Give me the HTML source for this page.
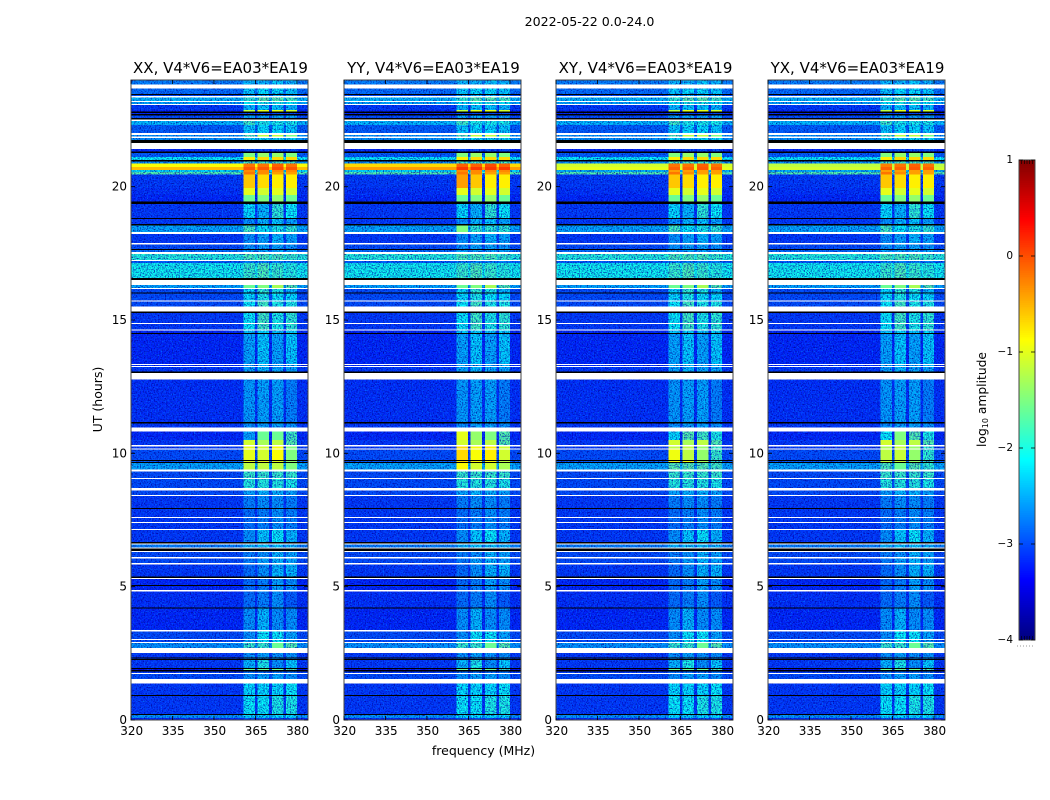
<!DOCTYPE html>
<html lang="en">
<head>
<meta charset="utf-8">
<title>2022-05-22 0.0-24.0</title>
<style>
html,body{margin:0;padding:0;background:#fff;}
svg{display:block;font-family:"DejaVu Sans","Liberation Sans",sans-serif;fill:#000;}
</style>
</head>
<body>
<svg id="fig" xmlns="http://www.w3.org/2000/svg" width="1050" height="800" viewBox="0 0 1050 800">
<defs>
<filter id="speckle-dark" x="0" y="0" width="100%" height="100%" color-interpolation-filters="sRGB">
<feTurbulence type="fractalNoise" baseFrequency="0.72" numOctaves="2" seed="3"/>
<feColorMatrix type="matrix" values="0 0 0 0 0  0 0 0 0 0  0 0 0 0 0.6  2.6 0 0 0 -1.15"/>
</filter>
<filter id="speckle-light" x="0" y="0" width="100%" height="100%" color-interpolation-filters="sRGB">
<feTurbulence type="fractalNoise" baseFrequency="0.72" numOctaves="2" seed="11"/>
<feColorMatrix type="matrix" values="0 0 0 0 0  0 0 0 0 0.5  0 0 0 0 1  0 2.4 0 0 -1.25"/>
</filter>
</defs>
<text x="589.5" y="26" font-size="12.6" text-anchor="middle">2022-05-22 0.0-24.0</text>
<text transform="translate(102,399.5) rotate(-90)" font-size="12.5" text-anchor="middle">UT (hours)</text>
<text x="483.5" y="755" font-size="12.5" text-anchor="middle">frequency (MHz)</text>
<g id="panels"></g>
<g id="colorbar"></g>
<text transform="translate(986,399.5) rotate(-90)" font-size="12.3" text-anchor="middle">log<tspan font-size="8" dy="2">10</tspan><tspan dy="-2"> amplitude</tspan></text>
</svg>
<script>
// White rows are flagged data, black rows are masked integrations.
const W = null;
const K = -9;

const panelTitles = ["XX, V4*V6=EA03*EA19", "YY, V4*V6=EA03*EA19", "XY, V4*V6=EA03*EA19", "YX, V4*V6=EA03*EA19"];
const freqTicks = [320, 335, 350, 365, 380];
const utTicks = [0, 5, 10, 15, 20];
const colorbarTicks = [1, 0, -1, -2, -3, -4];

// Frequency segment edges in MHz; segmentColumn selects which value of a row each segment reads.
const freqEdges = [320, 360.6, 364.9, 365.8, 369.9, 370.9, 375.1, 376, 380, 384];
const segmentColumn = [0, 1, 0, 2, 0, 3, 0, 4, 0];

// UT at the top of each row, then the last bottom edge (0).
const utEdges = [
24.00,23.84,23.69,23.48,23.44,23.40,23.34,23.21,23.18,23.10,
23.06,22.88,22.82,22.76,22.73,22.67,22.58,22.52,22.46,22.31,
22.01,21.94,21.88,21.83,21.75,21.64,21.41,21.31,21.26,21.11,
21.00,20.94,20.87,20.74,20.63,20.55,20.46,19.95,19.69,19.44,
19.35,18.83,18.79,18.60,18.54,18.30,18.23,17.89,17.83,17.66,
17.63,17.55,17.48,17.25,17.21,17.14,16.58,16.50,16.31,16.20,
16.16,16.03,15.99,15.73,15.69,15.51,15.32,15.26,14.89,14.85,
14.64,14.61,14.51,14.48,13.35,13.31,13.28,13.24,13.07,13.01,
12.77,11.18,11.12,10.97,10.81,10.50,10.31,10.26,10.18,10.14,
9.75,9.71,9.68,9.64,9.39,9.32,9.08,9.04,8.70,8.61,
8.44,8.40,7.95,7.91,7.61,7.58,7.43,7.39,7.16,7.13,
6.68,6.62,6.58,6.47,6.43,6.34,6.30,6.11,6.06,5.89,
5.83,5.38,5.33,5.29,5.06,5.03,4.88,4.82,4.22,4.18,
3.38,3.31,3.04,3.00,2.93,2.89,2.70,2.52,2.34,2.31,
2.29,2.25,1.95,1.91,1.88,1.82,1.76,1.73,1.54,1.36,
0.94,0.90,0.23,0.19,0.08,0
];

// log10 amplitude per row: [background, band1, band2, band3, band4], XX panel.
const xxCells = [
[-2.7,-2.4,-2.4,-2.3,-2.4],W,[-2.8,-2.3,-2.2,-2.2,-2.3],K,[-3,-2.5,-2.4,-2.4,-2.5],W,[-2.4,-1.9,-1.7,-1.7,-1.8],W,[-2.5,-2.1,-2,-2,-2.1],W,
[-3.1,-2.4,-2.3,-2.3,-2.4],[-3.2,-1.2,-1,-1,-1.1],K,[-3.2,-3,-3,-3,-3],K,[-3,-2.5,-2.5,-2.5,-2.5],K,W,[-2.4,-1.8,-2,-2,-2],[-2.9,-2.3,-2.2,-2.2,-2.3],
W,[-2.6,-1.7,-1.2,-1.2,-1.5],W,[-2.6,-2.2,-2.2,-2.2,-2.2],K,W,[-3.2,-3,-3,-3,-3],K,[-2.9,-1.5,-1.4,-1.4,-1.5],[-2.1,-0.8,-0.7,-0.7,-0.7],
K,[-2.6,-1.8,-1.8,-1.8,-1.8],[-0.9,-0.2,-0.2,-0.1,-0.2],[-0.55,-0.05,-0.05,0,-0.05],[-2.2,-0.3,-0.3,-0.3,-0.3],[-1.7,-0.2,-0.3,-0.4,-0.4],[-3.1,-0.6,-0.7,-0.8,-0.8],[-3.15,-1,-1.1,-1,-1.1],[-3.2,-1.6,-1.5,-1.4,-1.6],K,
[-3.1,-2.2,-2.4,-1.9,-2.1],K,[-3.1,-2.6,-2.4,-2.3,-2.5],K,[-2.5,-1.8,-2.1,-2,-1.9],W,[-3.1,-2.6,-2.5,-2.4,-2.5],W,[-3,-2.6,-2.5,-2.5,-2.6],K,
[-2.8,-2.5,-2.5,-2.5,-2.5],W,[-1.95,-1.75,-1.75,-1.75,-1.85],W,[-2.9,-2.7,-2.7,-2.7,-2.7],[-2.05,-1.85,-1.75,-1.85,-1.95],K,W,[-2.5,-1.6,-1.5,-1.3,-1.7],W,
[-3,-2.2,-1.9,-2,-2.4],K,[-3,-2.2,-2,-2.1,-2.2],W,[-3,-2.1,-1.8,-2,-2],W,K,[-3.1,-2.1,-1.8,-2,-1.9],W,[-3.1,-2.1,-1.8,-2,-1.9],
W,[-3.2,-2.3,-2.2,-2.3,-2.2],K,[-3.2,-2.5,-2.3,-2.5,-2.3],W,[-3.2,-2.5,-2.4,-2.5,-2.4],W,[-3.1,-2.5,-2.4,-2.5,-2.5],K,W,
[-3.15,-2.55,-2.5,-2.5,-2.7],K,[-3.1,-2.6,-2.5,-2.5,-2.6],W,[-3.2,-2.5,-1.6,-1.6,-1.8],[-3.1,-1.1,-1.3,-1.2,-1.7],W,[-3.1,-1,-1.1,-0.9,-1.5],W,[-3,-1,-1.1,-0.9,-1.5],
K,[-2.9,-1,-1,-1,-1.4],K,[-2.5,-1.2,-1.2,-1.2,-1.5],W,[-3,-1.85,-1.85,-1.85,-1.85],W,[-3,-1.95,-1.95,-1.95,-2],W,[-3,-2.5,-2.4,-2.4,-2.5],
W,[-3.1,-2.7,-2.6,-2.6,-2.7],K,[-3.1,-2.8,-2.7,-2.6,-2.7],W,[-3.1,-2.8,-2.7,-2.6,-2.7],W,[-3.1,-2.8,-2.7,-2.6,-2.7],W,[-3.1,-2.6,-2.3,-2.1,-2.4],
K,W,[-2.7,-2.4,-2.3,-2.3,-2.4],W,K,W,[-3,-2.7,-2.6,-2.4,-2.5],W,[-3,-2.7,-2.5,-2.4,-2.5],W,
[-3.1,-2.8,-2.6,-2.4,-2.4],K,W,[-3.2,-2.8,-2.7,-2.5,-2.6],K,[-3.2,-2.8,-2.7,-2.5,-2.6],W,[-3.15,-2.8,-2.7,-2.6,-2.9],K,[-3.2,-2.6,-2.4,-2.6,-2.6],
W,[-3,-2.6,-2.1,-2.1,-2.5],W,[-3,-2.5,-2.1,-2.1,-2.5],W,[-2.6,-1.85,-1.85,-1.6,-1.7],W,[-3.1,-2.6,-2.5,-2.6,-2.6],K,[-3.1,-2.6,-2.5,-2.6,-2.6],
K,[-3.1,-2.4,-2,-2.6,-2.3],K,[-3.5,-1.6,-1.6,-1.6,-1.7],K,[-3.1,-2.8,-2.8,-2.8,-2.8],W,[-3,-2.6,-2.5,-2.5,-2.6],W,[-3.1,-2.2,-2.2,-2.2,-2.1],
K,[-3.1,-2.1,-2.1,-2,-2],K,[-2.6,-2.2,-2.2,-2.2,-2.2],[-3.2,-3,-3,-3,-3]
];

// Rows where the other polarisations differ from XX, keyed by the row's top UT.
const yyRows = {
"20.87":[-0.7,-0.1,-0.1,0,-0.1],"20.74":[-0.4,0.1,0.1,0.1,0.1],"20.46":[-3.1,-0.4,-0.6,-0.8,-0.8],
"18.54":[-2.5,-1.5,-1.9,-1.9,-1.9],"10.81":[-3.2,-1,-1.4,-1.5,-1.7],"10.50":[-3.1,-0.75,-0.95,-0.9,-1.2],
"10.26":[-3.1,-0.7,-0.9,-0.8,-1.1],"10.14":[-3,-0.7,-0.9,-0.8,-1.1],"9.71":[-2.9,-0.75,-0.9,-0.9,-1.2],"9.64":[-2.5,-0.9,-1.1,-1.1,-1.3]
};
const xyRows = {
"20.87":[-1.1,-0.2,-0.2,-0.1,-0.2],"20.74":[-1,-0.1,-0.1,-0.05,-0.1],"20.63":[-2.4,-0.4,-0.4,-0.4,-0.4],
"10.81":[-3.2,-2.2,-1.7,-1.8,-2],"10.50":[-3.1,-1.6,-1.3,-1.5,-1.85],"10.26":[-3.1,-1.2,-1.2,-1.4,-1.85],
"10.14":[-3,-0.95,-1.2,-1.4,-1.85],"9.71":[-2.9,-0.95,-0.95,-1.3,-1.8],"9.64":[-2.5,-1.7,-1.7,-1.7,-1.8]
};
const yxRows = {
"20.87":[-1.2,-0.25,-0.2,-0.1,-0.2],"20.74":[-1.1,-0.1,-0.1,-0.05,-0.1],"20.63":[-2.4,-0.4,-0.4,-0.4,-0.4],
"10.81":[-3.2,-2.1,-1.5,-1.7,-2],"10.50":[-3.1,-1.5,-1.2,-1.5,-1.9],"10.26":[-3.1,-1.3,-1.15,-1.4,-1.9],
"10.14":[-3,-1.2,-1.15,-1.4,-1.9],"9.71":[-2.9,-1.2,-1.15,-1.4,-1.8],"9.64":[-2.5,-1.75,-1.6,-1.7,-1.9]
};
const panelOverrides = [{}, yyRows, xyRows, yxRows];
const panelLefts = [131, 344, 556, 768];

const NS = "http://www.w3.org/2000/svg";
const plotTop = 80, plotBottom = 720, plotWidth = 177;
const smoothAbove = -1.7;
const yOfUt = ut => plotBottom - (ut / 24) * (plotBottom - plotTop);
const xOfFreq = (f, left) => left + (f - 320) / 64 * plotWidth;
const cbTop = 160, cbBottom = 640, cbLeft = 1019, cbRight = 1035;
const yOfLog = v => cbBottom - (v + 4) / 5 * (cbBottom - cbTop);

function jet(v) {
  const t = Math.min(1, Math.max(0, (v + 4) / 5));
  const clip = x => Math.round(255 * Math.min(1, Math.max(0, x)));
  return "rgb(" + clip(1.5 - Math.abs(4 * t - 3)) + "," + clip(1.5 - Math.abs(4 * t - 2)) + "," + clip(1.5 - Math.abs(4 * t - 1)) + ")";
}
function make(tag, attrs, parent) {
  const el = document.createElementNS(NS, tag);
  for (const k in attrs) el.setAttribute(k, attrs[k]);
  parent.appendChild(el);
  return el;
}

const panelsGroup = document.getElementById("panels");
panelTitles.forEach((title, p) => {
  const left = panelLefts[p];
  const right = left + plotWidth;
  const g = make("g", {}, panelsGroup);
  
  

  const rowValue = i => {
    const key = utEdges[i].toFixed(2).replace(/0$/, "");
    return panelOverrides[p][key] !== undefined ? panelOverrides[p][key] : xxCells[i];
  };

  const cells = make("g", {"shape-rendering": "crispEdges"}, g);
  
  

  const darkNoise = make("rect", {x: left, y: plotTop, width: plotWidth, height: plotBottom - plotTop, filter: "url(#speckle-dark)"}, g);
  
  
  const lightNoise = make("rect", {x: left, y: plotTop, width: plotWidth, height: plotBottom - plotTop, filter: "url(#speckle-light)"}, g);
  
  

  const brightCells = make("g", {"shape-rendering": "crispEdges"}, g);
  
  

  xxCells.forEach((_, i) => {
    const row = rowValue(i);
    if (row === W || row === K) return;
    segmentColumn.forEach((col, s) => {
      const x0 = xOfFreq(freqEdges[s], left), x1 = xOfFreq(freqEdges[s + 1], left);
      const y0 = yOfUt(utEdges[i]), y1 = yOfUt(utEdges[i + 1]);
      const parent = row[col] > smoothAbove ? brightCells : cells;
      const cell = make("rect", {x: x0, y: y0, width: x1 - x0, height: y1 - y0, fill: jet(row[col])}, parent);
      
      
    });
  });

  const masks = make("g", {"shape-rendering": "crispEdges"}, g);
  
  
  xxCells.forEach((_, i) => {
    const row = rowValue(i);
    if (row !== W && row !== K) return;
    const y0 = yOfUt(utEdges[i]), y1 = yOfUt(utEdges[i + 1]);
    const band = make("rect", {x: left, y: y0, width: plotWidth, height: y1 - y0, fill: row === W ? "#fff" : "#000"}, masks);
    
    
  });

  const frame = make("rect", {x: left, y: plotTop, width: plotWidth, height: plotBottom - plotTop, fill: "none", stroke: "#444", "stroke-width": 1}, g);
  
  

  freqTicks.forEach(f => {
    const x = xOfFreq(f, left);
    const tick = make("path", {d: "M" + x + " " + plotBottom + "v-4M" + x + " " + plotTop + "v4", stroke: "#000", "stroke-width": 0.8, fill: "none"}, g);
    
    
    const label = make("text", {x: x + 0.7, y: 735, "font-size": 12, "text-anchor": "middle"}, g);
    
    
    label.textContent = f;
  });
  utTicks.forEach(u => {
    const y = yOfUt(u);
    const tick = make("path", {d: "M" + left + " " + y + "h4M" + right + " " + y + "h-4", stroke: "#000", "stroke-width": 0.8, fill: "none"}, g);
    
    
    const label = make("text", {x: left - 4, y: y + 4, "font-size": 12, "text-anchor": "end"}, g);
    
    
    label.textContent = u;
  });

  const titleEl = make("text", {x: left + plotWidth / 2 + 1, y: 73, "font-size": 15, "text-anchor": "middle"}, g);
  
  
  titleEl.textContent = title;
});

const cb = document.getElementById("colorbar");
const cbSwatches = make("g", {"shape-rendering": "crispEdges"}, cb);


for (let v = -4; v < 1; v += 5 / 256) {
  const s = make("rect", {x: cbLeft, y: yOfLog(v + 5 / 256) - 0.5, width: cbRight - cbLeft, height: 2.9, fill: jet(v)}, cbSwatches);
  
  
}
const cbFrame = make("rect", {x: cbLeft, y: cbTop, width: cbRight - cbLeft, height: cbBottom - cbTop, fill: "none", stroke: "#444", "stroke-width": 1}, cb);


colorbarTicks.forEach(v => {
  const y = yOfLog(v);
  const tick = make("path", {d: "M" + cbLeft + " " + y + "h4M" + cbRight + " " + y + "h-4", stroke: "#000", "stroke-width": 0.8, fill: "none"}, cb);
  
  
  const label = make("text", {x: 1013, y: y + 3, "font-size": 10.5, "text-anchor": "end"}, cb);
  
  
  label.textContent = v < 0 ? "\u2212" + Math.abs(v) : String(v);
});
const cbMinor = make("path", {d: "", stroke: "#000", "stroke-width": 0.6, fill: "none"}, cb);


let minor = "";
for (let i = 1; i < 6; i++) {
  const x = cbLeft + i * (cbRight - cbLeft) / 6;
  minor += "M" + x + " " + cbTop + "v4M" + x + " " + cbBottom + "v-4";
}
cbMinor.setAttribute("d", minor);
const cbDots = make("path", {d: "M1017 646H1035", stroke: "#999", "stroke-width": 1, "stroke-dasharray": "1 2", fill: "none"}, cb);


</script>
</body>
</html>
